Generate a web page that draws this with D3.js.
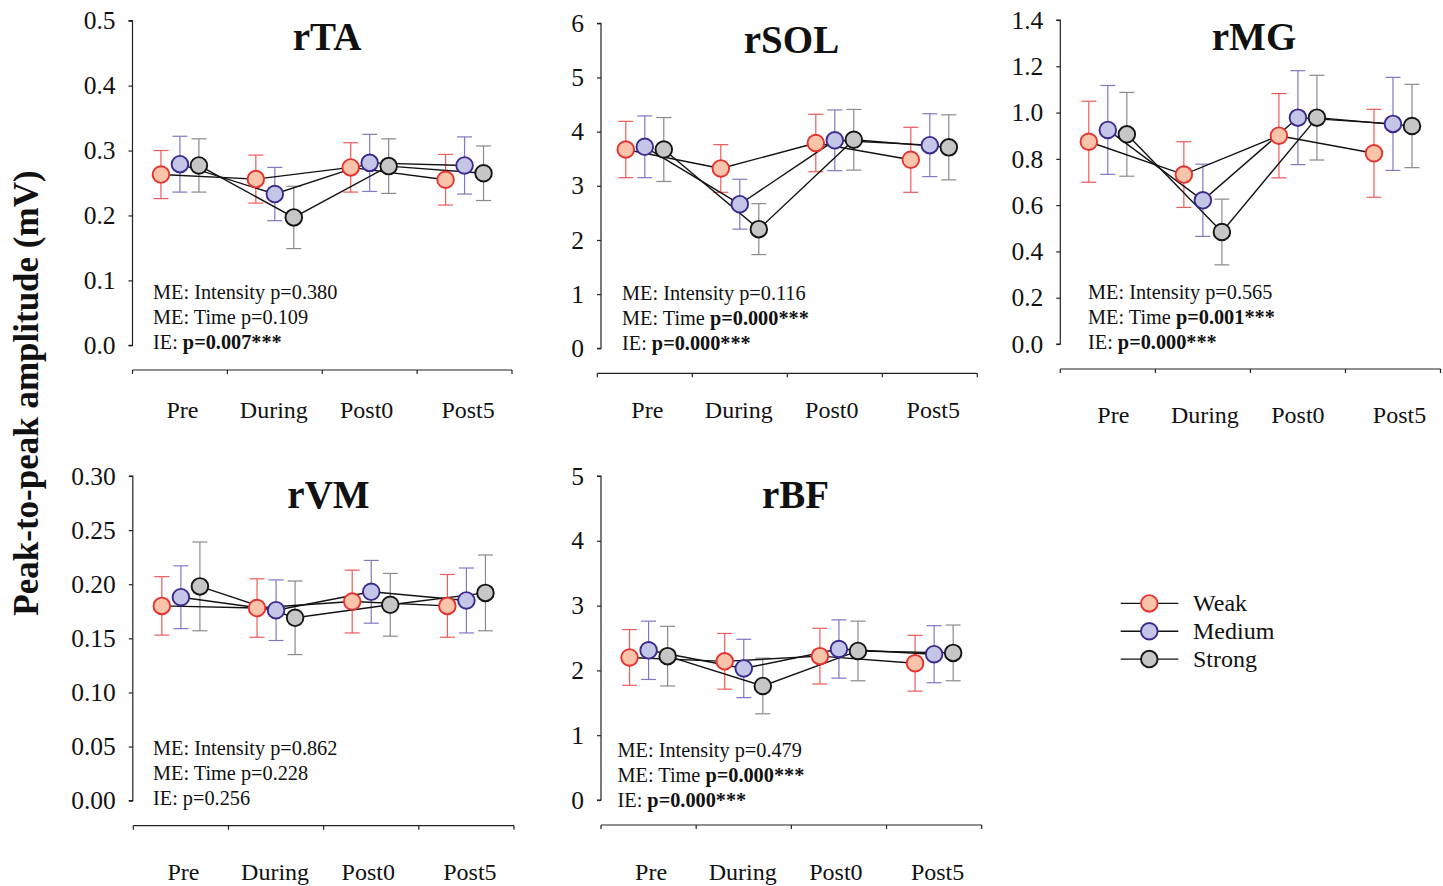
<!DOCTYPE html>
<html>
<head>
<meta charset="utf-8">
<script src="https://cdn.jsdelivr.net/npm/d3@7"></script>
<style>
  body { margin: 0; background: #fff; }
  svg text { font-family: "Liberation Serif", "Times New Roman", serif; fill: #111; }
</style>
</head>
<body>
<svg id="main"></svg>
<script>
const width = 1443, height = 886;

const categories = ["Pre", "During", "Post0", "Post5"];
const groups = ["Weak", "Medium", "Strong"];

// means [Weak, Medium, Strong] x [Pre, During, Post0, Post5]
const rTA_mean = [[0.263, 0.256, 0.274, 0.255], [0.279, 0.233, 0.281, 0.277], [0.277, 0.197, 0.276, 0.265]];
const rTA_err = [[0.037, 0.037, 0.038, 0.039], [0.043, 0.041, 0.044, 0.044], [0.041, 0.048, 0.042, 0.042]];
const rSOL_mean = [[3.67, 3.32, 3.79, 3.48], [3.72, 2.66, 3.84, 3.75], [3.67, 2.20, 3.85, 3.71]];
const rSOL_err = [[0.52, 0.44, 0.53, 0.60], [0.57, 0.46, 0.56, 0.58], [0.59, 0.47, 0.56, 0.60]];
const rMG_mean = [[0.874, 0.732, 0.900, 0.824], [0.925, 0.621, 0.978, 0.951], [0.906, 0.484, 0.978, 0.942]];
const rMG_err = [[0.175, 0.142, 0.182, 0.190], [0.192, 0.156, 0.203, 0.201], [0.181, 0.142, 0.183, 0.180]];
const rVM_mean = [[0.180, 0.178, 0.184, 0.180], [0.188, 0.176, 0.193, 0.185], [0.198, 0.169, 0.181, 0.192]];
const rVM_err = [[0.027, 0.027, 0.029, 0.029], [0.029, 0.028, 0.029, 0.030], [0.041, 0.034, 0.029, 0.035]];
const rBF_mean = [[2.20, 2.14, 2.22, 2.11], [2.31, 2.03, 2.33, 2.25], [2.22, 1.76, 2.30, 2.27]];
const rBF_err = [[0.43, 0.43, 0.43, 0.43], [0.45, 0.45, 0.45, 0.44], [0.46, 0.43, 0.46, 0.43]];

const rTA_ticks = [0, 0.1, 0.2, 0.3, 0.4, 0.5];
const rSOL_ticks = [0, 1, 2, 3, 4, 5, 6];
const rMG_ticks = [0, 0.2, 0.4, 0.6, 0.8, 1.0, 1.2, 1.4];
const rVM_ticks = [0, 0.05, 0.10, 0.15, 0.20, 0.25, 0.30];
const rBF_ticks = [0, 1, 2, 3, 4, 5];

// stats lines: [plain part, bold part]
const rTA_stats = [["ME: Intensity p=0.380", ""], ["ME: Time p=0.109", ""], ["IE: ", "p=0.007***"]];
const rSOL_stats = [["ME: Intensity p=0.116", ""], ["ME: Time ", "p=0.000***"], ["IE: ", "p=0.000***"]];
const rMG_stats = [["ME: Intensity p=0.565", ""], ["ME: Time ", "p=0.001***"], ["IE: ", "p=0.000***"]];
const rVM_stats = [["ME: Intensity p=0.862", ""], ["ME: Time p=0.228", ""], ["IE: p=0.256", ""]];
const rBF_stats = [["ME: Intensity p=0.479", ""], ["ME: Time ", "p=0.000***"], ["IE: ", "p=0.000***"]];

const fills = ["#f9c4aa", "#c4c6e8", "#c6c6c6"];
const strokes = ["#e8312c", "#3b2a8e", "#151515"];
const errColors = ["#ef5a5a", "#7f78c4", "#8a8a8a"];

// small nudges of the category labels, as in the original figure
const labelShift = [2.5, -1, -3, 3.5];

// panel placement
const panels = [
  { name: "rTA", mean: rTA_mean, err: rTA_err, ticks: rTA_ticks, fmt: ".1f", stats: rTA_stats,
    ax: 132.5, x0: 132.5, x1: 512, yTop: 20.7, yBot: 345.3, xAxisY: 370, titleX: 327, titleY: 50, labY: 418, labDx: 0, statX: 153, statY: 299 },
  { name: "rSOL", mean: rSOL_mean, err: rSOL_err, ticks: rSOL_ticks, fmt: "d", stats: rSOL_stats,
    ax: 601, x0: 597.3, x1: 977.3, yTop: 23.3, yBot: 348.3, xAxisY: 373.3, titleX: 791.5, titleY: 52.5, labY: 418, labDx: 0, statX: 622, statY: 300 },
  { name: "rMG", mean: rMG_mean, err: rMG_err, ticks: rMG_ticks, fmt: ".1f", stats: rMG_stats,
    ax: 1060.3, x0: 1060.3, x1: 1440.5, yTop: 20, yBot: 344, xAxisY: 369, titleX: 1254, titleY: 49.5, labY: 423, labDx: 3, statX: 1088, statY: 298.5 },
  { name: "rVM", mean: rVM_mean, err: rVM_err, ticks: rVM_ticks, fmt: ".2f", stats: rVM_stats,
    ax: 132.8, x0: 133.3, x1: 514, yTop: 476, yBot: 800.7, xAxisY: 825.7, titleX: 328.5, titleY: 507.5, labY: 880, labDx: 0, statX: 153, statY: 755 },
  { name: "rBF", mean: rBF_mean, err: rBF_err, ticks: rBF_ticks, fmt: "d", stats: rBF_stats,
    ax: 601, x0: 601, x1: 981.7, yTop: 476, yBot: 800, xAxisY: 825, titleX: 795.5, titleY: 507.5, labY: 880, labDx: 0, statX: 617.5, statY: 756.5 }
];

const svg = d3.select("#main").attr("width", width).attr("height", height);

panels.forEach(p => {
  const g = svg.append("g");
  const x = d3.scaleBand().domain(categories).range([p.x0, p.x1]).padding(0);
  const y = d3.scaleLinear().domain([0, d3.max(p.ticks)]).range([p.yBot, p.yTop]);
  const bw = x.bandwidth();
  const px = (ci, gi) => x(categories[ci]) + bw / 2 + (gi - 1) * bw * 0.2;

  // y axis
  const yAxis = g.append("g").attr("transform", `translate(${p.ax},0)`)
    .call(d3.axisLeft(y).tickValues(p.ticks).tickFormat(d3.format(p.fmt)).tickSize(4).tickPadding(13));
  yAxis.select(".domain").attr("d", `M-4,${p.yBot}H0V${p.yTop}H-4`).attr("stroke", "#222").attr("stroke-width", 1.2);
  yAxis.selectAll(".tick line").attr("stroke", "#222").attr("stroke-width", 1.2);
  yAxis.selectAll(".tick text").attr("font-size", 25.5).attr("font-family", "Liberation Serif").attr("fill", "#111");

  // x axis (detached, boundary ticks)
  const xAxisG = g.append("g");
  xAxisG.append("line").attr("x1", p.x0).attr("x2", p.x1).attr("y1", p.xAxisY).attr("y2", p.xAxisY)
    .attr("stroke", "#222").attr("stroke-width", 1.2);
  const bounds = categories.map(c => x(c)).concat([p.x1]);
  xAxisG.selectAll("line.tk").data(bounds).join("line").attr("class", "tk")
    .attr("x1", d => d).attr("x2", d => d).attr("y1", p.xAxisY).attr("y2", p.xAxisY + 4)
    .attr("stroke", "#222").attr("stroke-width", 1.2);
  xAxisG.selectAll("text").data(categories).join("text")
    .attr("x", (d, i) => x(d) + bw / 2 + labelShift[i] + p.labDx).attr("y", p.labY)
    .attr("text-anchor", "middle").attr("font-size", 24).text(d => d);

  // title
  g.append("text").attr("x", p.titleX).attr("y", p.titleY).attr("text-anchor", "middle")
    .attr("font-size", 39).attr("font-weight", "bold").text(p.name);

  // stats
  p.stats.forEach((s, i) => {
    const t = g.append("text").attr("x", p.statX).attr("y", p.statY + i * 25).attr("font-size", 20.3);
    t.append("tspan").text(s[0]);
    if (s[1]) t.append("tspan").attr("font-weight", "bold").text(s[1]);
  });

  // error bars
  groups.forEach((grp, gi) => {
    const eg = g.append("g").attr("stroke", errColors[gi]).attr("stroke-width", 1.2);
    categories.forEach((c, ci) => {
      const cx = px(ci, gi);
      const m = p.mean[gi][ci], e = p.err[gi][ci];
      eg.append("line").attr("x1", cx).attr("x2", cx).attr("y1", y(m - e)).attr("y2", y(m + e));
      eg.append("line").attr("x1", cx - 7.5).attr("x2", cx + 7.5).attr("y1", y(m + e)).attr("y2", y(m + e));
      eg.append("line").attr("x1", cx - 7.5).attr("x2", cx + 7.5).attr("y1", y(m - e)).attr("y2", y(m - e));
    });
  });

  // connecting lines
  const line = d3.line().x(d => d[0]).y(d => d[1]);
  groups.forEach((grp, gi) => {
    const pts = categories.map((c, ci) => [px(ci, gi), y(p.mean[gi][ci])]);
    g.append("path").attr("d", line(pts)).attr("fill", "none").attr("stroke", "#111").attr("stroke-width", 1.4);
  });

  // markers
  groups.forEach((grp, gi) => {
    g.append("g").selectAll("circle").data(categories).join("circle")
      .attr("cx", (c, ci) => px(ci, gi)).attr("cy", (c, ci) => y(p.mean[gi][ci]))
      .attr("r", 8.3).attr("fill", fills[gi]).attr("stroke", strokes[gi]).attr("stroke-width", 1.9);
  });
});

// y label
svg.append("text").attr("transform", "translate(38,393) rotate(-90)")
  .attr("text-anchor", "middle").attr("font-size", 35).attr("font-weight", "bold")
  .text("Peak-to-peak amplitude (mV)");

// legend
const legend = svg.append("g");
const legY = d3.scaleBand().domain(groups).range([589.5, 673]);
groups.forEach((grp, gi) => {
  const cy = legY(grp) + legY.bandwidth() / 2;
  legend.append("line").attr("x1", 1120.7).attr("x2", 1178.3).attr("y1", cy).attr("y2", cy)
    .attr("stroke", "#111").attr("stroke-width", 1.4);
  legend.append("circle").attr("cx", 1149.3).attr("cy", cy).attr("r", 8.3)
    .attr("fill", fills[gi]).attr("stroke", strokes[gi]).attr("stroke-width", 1.9);
  legend.append("text").attr("x", 1193).attr("y", cy + 8).attr("font-size", 24).text(grp);
});
</script>
</body>
</html>
